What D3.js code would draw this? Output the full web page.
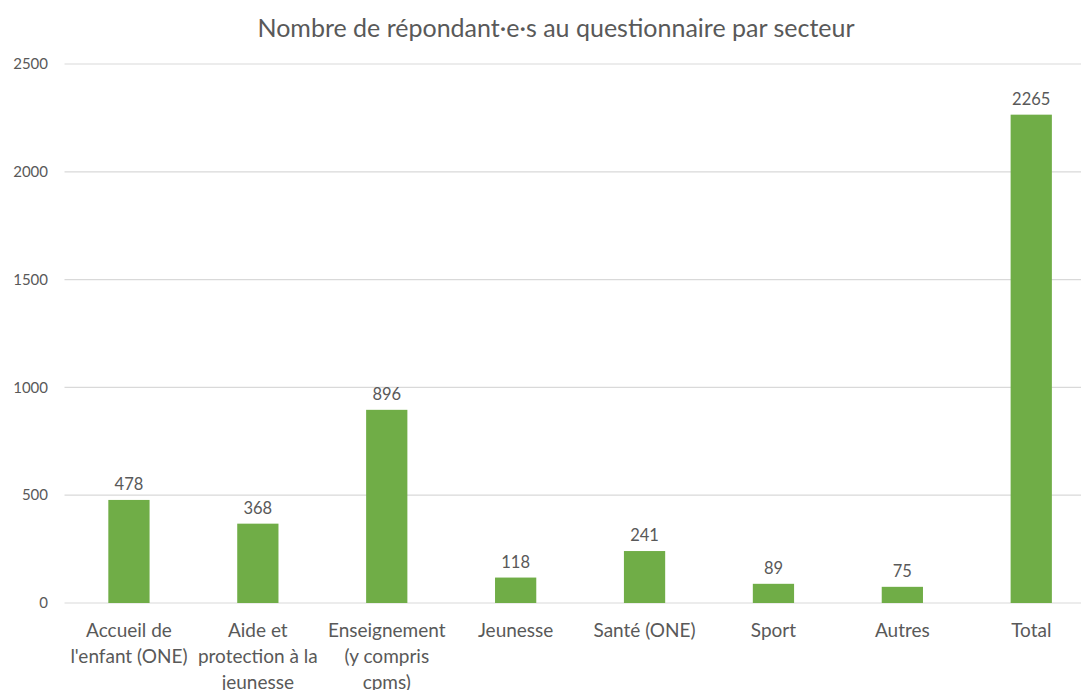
<!DOCTYPE html>
<html>
<head>
<meta charset="utf-8">
<script src="https://cdn.jsdelivr.net/npm/d3@7"></script>
<style>
  body { margin: 0; background: #fff; }
  text { font-family: Lato, "Open Sans", sans-serif; fill: #595959; }
</style>
</head>
<body>
<div id="chart"></div>
<script>
const title = "Nombre de répondant·e·s au questionnaire par secteur";
const categories = [
  ["Accueil de", "l'enfant (ONE)"],
  ["Aide et", "protection à la", "jeunesse"],
  ["Enseignement", "(y compris", "cpms)"],
  ["Jeunesse"],
  ["Santé (ONE)"],
  ["Sport"],
  ["Autres"],
  ["Total"]
];
const values = [478, 368, 896, 118, 241, 89, 75, 2265];
const yTicks = [0, 500, 1000, 1500, 2000, 2500];

function init() {
  const W = 1081, H = 690;
  const left = 64.5, right = 1095.7, top = 64, bottom = 603;

  const svg = d3.select("#chart").append("svg")
    .attr("width", W).attr("height", H);

  const x = d3.scaleBand()
    .domain(d3.range(values.length))
    .range([left, right])
    .padding(0);

  const y = d3.scaleLinear().domain([0, 2500]).range([bottom, top]);

  // title
  svg.append("text")
    .attr("x", 556).attr("y", 37)
    .attr("text-anchor", "middle")
    .style("font-size", "25px")
    .text(title);

  // gridlines
  svg.append("g")
    .selectAll("line")
    .data(yTicks)
    .enter()
    .append("line")
    .attr("x1", left).attr("x2", right)
    .attr("y1", d => y(d)).attr("y2", d => y(d))
    .attr("stroke", "#d9d9d9")
    .attr("stroke-width", 1.2);

  // y tick labels
  svg.append("g")
    .selectAll("text")
    .data(yTicks)
    .enter()
    .append("text")
    .attr("x", 48)
    .attr("y", d => y(d))
    .attr("dy", "0.35em")
    .attr("text-anchor", "end")
    .style("font-size", "15px")
    .text(d => d);

  const barW = x.bandwidth() * 0.32;

  // bars
  svg.append("g")
    .selectAll("rect")
    .data(values)
    .enter()
    .append("rect")
    .attr("x", (d, i) => x(i) + x.bandwidth() / 2 - barW / 2)
    .attr("width", barW)
    .attr("y", d => y(d))
    .attr("height", d => y(0) - y(d))
    .attr("fill", "#70ad47");

  // value labels
  svg.append("g")
    .selectAll("text")
    .data(values)
    .enter()
    .append("text")
    .attr("x", (d, i) => x(i) + x.bandwidth() / 2)
    .attr("y", d => y(d) - 10)
    .attr("text-anchor", "middle")
    .style("font-size", "16.5px")
    .text(d => d);

  // category labels
  const cat = svg.append("g")
    .selectAll("text")
    .data(categories)
    .enter()
    .append("text")
    .attr("text-anchor", "middle")
    .style("font-size", "19px");

  cat.selectAll("tspan")
    .data((d, i) => d.map(s => ({ s: s, i: i })))
    .enter()
    .append("tspan")
    .attr("x", d => x(d.i) + x.bandwidth() / 2)
    .attr("y", (d, j) => 637 + j * 26)
    .text(d => d.s);
}

window.onload = init;
</script>
</body>
</html>
